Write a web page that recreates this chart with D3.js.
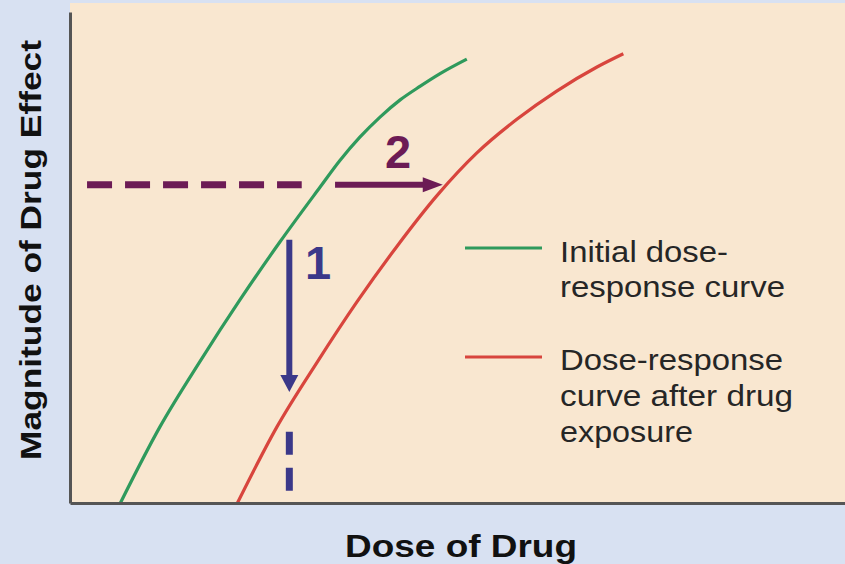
<!DOCTYPE html>
<html><head><meta charset="utf-8">
<script src="https://cdn.jsdelivr.net/npm/d3@7/dist/d3.min.js"></script>
<style>html,body{margin:0;padding:0;background:#d7e0f2;}svg{display:block;font-family:"Liberation Sans",Arial,sans-serif;}</style>
</head><body><svg id="c" width="845" height="564"></svg>
<script>
// Dose (x) and effect (y) in arbitrary units 0-100
const initialDose   = [6.5, 11.6, 16.8, 21.9, 27.1, 32.3, 34.8, 37.4, 40.0, 42.6, 45.2, 47.7, 51.2];
const initialEffect = [0.0, 15.5, 28.9, 41.3, 53.2, 64.4, 69.7, 74.5, 78.6, 82.1, 84.9, 87.4, 90.4];
const afterDose     = [21.6, 26.7, 31.9, 37.0, 42.2, 47.4, 52.5, 57.7, 62.8, 68.0, 71.4];
const afterEffect   = [0.0, 15.5, 28.7, 40.9, 52.3, 62.7, 71.3, 78.2, 83.9, 88.8, 91.5];
// annotation: shift "2" (horizontal) at fixed effect, shift "1" (vertical) at fixed dose
const shift2Effect = 64.8, shift2DashFrom = 2.2, shift2DashTo = 29.9, shift2ArrowFrom = 34.2, shift2ArrowTo = 48.1;
const shift1Dose = 28.3, shift1ArrowFrom = 53.6, shift1ArrowTo = 22.6, shift1DashFrom = 14.5, shift1DashTo = 2.2;
const legendLabels = [["Initial dose-", "response curve"], ["Dose-response", "curve after drug", "exposure"]];
const xTitle = "Dose of Drug", yTitle = "Magnitude of Drug Effect";

const svg = d3.select("#c");
const x = d3.scaleLinear().domain([0, 100]).range([70, 845]);
const y = d3.scaleLinear().domain([0, 100]).range([503, 12]);

svg.append("rect").attr("width", 845).attr("height", 564).attr("fill", "#d8e1f2");
svg.append("rect").attr("x", x(0)).attr("y", 3).attr("width", 845 - x(0)).attr("height", y(0) - 3).attr("fill", "#f9e7d0");

const green = "#2f9a5c", red = "#d8453d", purple = "#6c1b55", blue = "#3b3889";

const line = d3.line().x(d => x(d[0])).y(d => y(d[1])).curve(d3.curveMonotoneX);
svg.append("path").datum(d3.zip(initialDose, initialEffect)).attr("d", line)
  .attr("fill", "none").attr("stroke", green).attr("stroke-width", 3.2);
svg.append("path").datum(d3.zip(afterDose, afterEffect)).attr("d", line)
  .attr("fill", "none").attr("stroke", red).attr("stroke-width", 3.2);

// axes (no ticks)
const xAxis = d3.axisBottom(x).tickValues([]).tickSizeOuter(0);
const yAxis = d3.axisLeft(y).tickValues([]).tickSizeOuter(0);
svg.append("g").attr("transform", `translate(0,${y(0)})`).call(xAxis)
  .select(".domain").attr("stroke", "#555").attr("stroke-width", 3);
svg.append("g").attr("transform", `translate(${x(0)},0)`).call(yAxis)
  .select(".domain").attr("stroke", "#555").attr("stroke-width", 3);

// shift 2: horizontal dashed + arrow
const ey = y(shift2Effect);
svg.append("line").attr("x1", x(shift2DashFrom)).attr("x2", x(shift2DashTo)).attr("y1", ey).attr("y2", ey)
  .attr("stroke", purple).attr("stroke-width", 7).attr("stroke-dasharray", "25 13");
const tip2 = x(shift2ArrowTo);
svg.append("line").attr("x1", x(shift2ArrowFrom)).attr("x2", tip2 - 16).attr("y1", ey).attr("y2", ey)
  .attr("stroke", purple).attr("stroke-width", 6);
svg.append("path").attr("d", `M${tip2},${ey} L${tip2 - 20},${ey - 7.5} L${tip2 - 20},${ey + 7.5} Z`).attr("fill", purple);
svg.append("text").attr("x", 398).attr("y", 168).attr("text-anchor", "middle")
  .attr("font-size", 47).attr("font-weight", "bold").attr("fill", purple).text("2");

// shift 1: vertical arrow + dashes
const dx = x(shift1Dose);
const tip1 = y(shift1ArrowTo);
svg.append("line").attr("x1", dx).attr("x2", dx).attr("y1", y(shift1ArrowFrom)).attr("y2", tip1 - 12)
  .attr("stroke", blue).attr("stroke-width", 6);
svg.append("path").attr("d", `M${dx},${tip1} L${dx - 9},${tip1 - 17} L${dx + 9},${tip1 - 17} Z`).attr("fill", blue);
svg.append("line").attr("x1", dx).attr("x2", dx).attr("y1", y(shift1DashFrom)).attr("y2", y(shift1DashTo))
  .attr("stroke", blue).attr("stroke-width", 7).attr("stroke-dasharray", "23 13");
svg.append("text").attr("x", 305).attr("y", 279)
  .attr("font-size", 47).attr("font-weight", "bold").attr("fill", blue).text("1");

// legend
const legendColors = [green, red];
const legendLineY = [248, 357];
const legendBaselines = [[262, 297], [370, 406, 442]];
const legendLengths = [[168, 225], [223, 233, 133]];
legendLabels.forEach((lines, i) => {
  svg.append("line").attr("x1", 465).attr("x2", 542).attr("y1", legendLineY[i]).attr("y2", legendLineY[i])
    .attr("stroke", legendColors[i]).attr("stroke-width", 3.2);
  lines.forEach((t, j) => {
    svg.append("text").attr("x", 560).attr("y", legendBaselines[i][j]).attr("font-size", 29)
      .attr("fill", "#262626").attr("textLength", legendLengths[i][j]).attr("lengthAdjust", "spacingAndGlyphs").text(t);
  });
});

// axis titles
svg.append("text").attr("x", 345).attr("y", 557).attr("font-size", 31).attr("font-weight", "bold")
  .attr("fill", "#111").attr("textLength", 232).attr("lengthAdjust", "spacingAndGlyphs").text(xTitle);
svg.append("text").attr("transform", "translate(41,460) rotate(-90)").attr("font-size", 30).attr("font-weight", "bold")
  .attr("fill", "#111").attr("textLength", 420).attr("lengthAdjust", "spacingAndGlyphs").text(yTitle);
</script></body></html>
